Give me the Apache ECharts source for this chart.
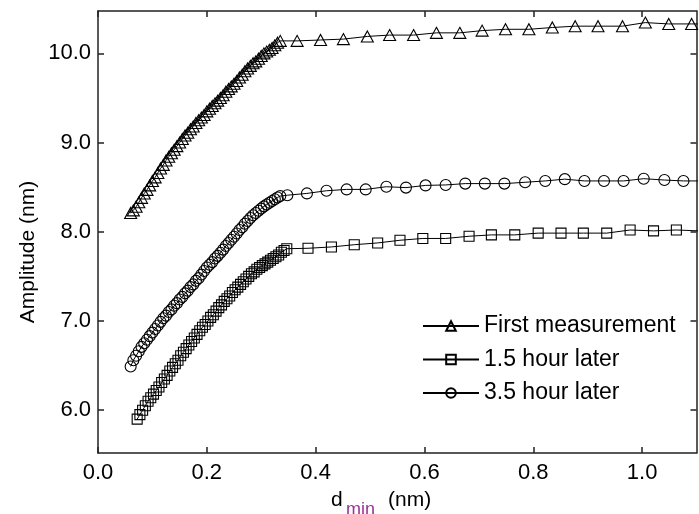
<!DOCTYPE html>
<html><head><meta charset="utf-8">
<script src="https://cdn.jsdelivr.net/npm/echarts@6/dist/echarts.min.js"></script>
<style>html,body{margin:0;padding:0;background:#fff}#c{width:699px;height:514px}</style>
</head><body><div id="c"></div>
<script>
const seriesNames = ['First measurement', '1.5 hour later', '3.5 hour later'];
const xTicks = [0, 0.2, 0.4, 0.6, 0.8, 1.0];
const yTicks = [6, 7, 8, 9, 10];

// First measurement (triangles)
const firstX = [0.060,0.065,0.070,0.075,0.080,0.085,0.090,0.095,0.100,0.105,0.110,0.115,0.120,0.125,0.130,0.135,0.140,0.145,0.150,0.155,0.160,0.165,0.170,0.175,0.180,0.185,0.190,0.195,0.200,0.205,0.210,0.215,0.220,0.225,0.230,0.235,0.240,0.245,0.250,0.255,0.260,0.265,0.270,0.275,0.280,0.285,0.290,0.295,0.300,0.305,0.310,0.315,0.320,0.325,0.330,0.335,
  0.366,0.409,0.451,0.495,0.536,0.580,0.622,0.665,0.706,0.749,0.792,0.835,0.877,0.919,0.964,1.006,1.049,1.091,1.134];
const firstY = [8.21,8.24,8.28,8.33,8.38,8.43,8.47,8.52,8.57,8.61,8.66,8.71,8.75,8.80,8.84,8.88,8.92,8.96,9.00,9.04,9.08,9.11,9.15,9.18,9.22,9.25,9.28,9.31,9.35,9.38,9.41,9.44,9.47,9.50,9.53,9.57,9.60,9.63,9.66,9.69,9.73,9.76,9.80,9.83,9.86,9.89,9.91,9.94,9.97,10.00,10.02,10.04,10.06,10.09,10.12,10.14,
  10.14,10.15,10.16,10.19,10.205,10.205,10.23,10.23,10.255,10.27,10.27,10.29,10.305,10.305,10.305,10.345,10.33,10.33,10.33];

// 1.5 hour later (squares)
const laterX15 = [0.072,0.077,0.082,0.087,0.092,0.097,0.102,0.107,0.112,0.117,0.122,0.127,0.132,0.137,0.142,0.147,0.152,0.157,0.162,0.167,0.172,0.177,0.182,0.187,0.192,0.197,0.202,0.207,0.212,0.217,0.222,0.227,0.232,0.237,0.242,0.247,0.252,0.257,0.262,0.267,0.272,0.277,0.282,0.287,0.292,0.297,0.302,0.307,0.312,0.317,0.322,0.327,0.332,0.337,0.342,0.347,
  0.386,0.429,0.471,0.514,0.555,0.597,0.639,0.682,0.723,0.766,0.809,0.851,0.892,0.935,0.978,1.021,1.063,1.105];
const laterY15 = [5.90,5.95,6.00,6.05,6.10,6.14,6.18,6.22,6.26,6.31,6.35,6.39,6.44,6.48,6.52,6.56,6.61,6.65,6.69,6.73,6.77,6.81,6.85,6.89,6.93,6.96,7.00,7.04,7.07,7.11,7.15,7.18,7.22,7.25,7.28,7.32,7.35,7.38,7.41,7.44,7.47,7.50,7.53,7.55,7.58,7.60,7.62,7.64,7.66,7.68,7.70,7.72,7.74,7.77,7.79,7.81,
  7.815,7.83,7.855,7.875,7.905,7.925,7.925,7.95,7.965,7.965,7.985,7.985,7.985,7.985,8.02,8.01,8.02,8.01];

// 3.5 hour later (circles)
const laterX35 = [0.060,0.065,0.070,0.075,0.080,0.085,0.090,0.095,0.100,0.105,0.110,0.115,0.120,0.125,0.130,0.135,0.140,0.145,0.150,0.155,0.160,0.165,0.170,0.175,0.180,0.185,0.190,0.195,0.200,0.205,0.210,0.215,0.220,0.225,0.230,0.235,0.240,0.245,0.250,0.255,0.260,0.265,0.270,0.275,0.280,0.285,0.290,0.295,0.300,0.305,0.310,0.315,0.320,0.325,0.330,0.335,
  0.348,0.384,0.420,0.457,0.492,0.530,0.566,0.602,0.639,0.675,0.711,0.747,0.785,0.822,0.858,0.894,0.930,0.966,1.003,1.041,1.076,1.113];
const laterY35 = [6.49,6.56,6.61,6.66,6.71,6.75,6.79,6.83,6.87,6.91,6.95,6.99,7.03,7.06,7.10,7.13,7.17,7.20,7.24,7.27,7.31,7.34,7.38,7.41,7.45,7.48,7.52,7.56,7.60,7.63,7.66,7.70,7.73,7.765,7.80,7.84,7.875,7.91,7.945,7.98,8.02,8.05,8.09,8.12,8.155,8.185,8.21,8.235,8.26,8.285,8.305,8.325,8.345,8.365,8.385,8.40,
  8.41,8.43,8.46,8.475,8.475,8.505,8.495,8.52,8.525,8.54,8.54,8.54,8.555,8.57,8.59,8.57,8.57,8.57,8.595,8.58,8.57,8.57];

function pairs(xs, ys) { return xs.map((x, i) => [x, ys[i]]); }

const FONT = '"Liberation Sans", Arial, sans-serif';
const AX = '#222';

function mkSeries(name, symbol, size, xs, ys) {
  return {
    name: name, type: 'line', data: pairs(xs, ys),
    symbol: symbol, symbolSize: size, showSymbol: true, showAllSymbol: true,
    lineStyle: { color: '#000', width: 1 },
    itemStyle: { color: 'rgba(0,0,0,0)', borderColor: '#000', borderWidth: 1.1 },
    emphasis: { disabled: true }, clip: true, animation: false
  };
}

function mkX(pos, showLabel) {
  return {
    type: 'value', min: 0, max: 1.1, position: pos,
    axisLine: { show: true, onZero: false, lineStyle: { color: AX, width: 1.5 } },
    axisTick: { show: true, inside: true, length: 6, customValues: xTicks, lineStyle: { color: AX, width: 1.5 } },
    axisLabel: { show: showLabel, customValues: xTicks, formatter: v => v.toFixed(1), color: '#000', fontSize: 22, fontFamily: FONT, margin: 9 },
    splitLine: { show: false }
  };
}
function mkY(pos, showLabel) {
  return {
    type: 'value', min: 5.52, max: 10.475, position: pos,
    axisLine: { show: true, onZero: false, lineStyle: { color: AX, width: 1.5 } },
    axisTick: { show: true, inside: true, length: 6, customValues: yTicks, lineStyle: { color: AX, width: 1.5 } },
    axisLabel: { show: showLabel, customValues: yTicks, formatter: v => v.toFixed(1), color: '#000', fontSize: 22, fontFamily: FONT, margin: 7 },
    splitLine: { show: false }
  };
}

const chart = echarts.init(document.getElementById('c'));
chart.setOption({
  animation: false,
  backgroundColor: '#fff',
  grid: { left: 98, right: 2.5, top: 11, bottom: 61, outerBoundsMode: 'none', containLabel: false },
  xAxis: [mkX('bottom', true), mkX('top', false)],
  yAxis: [mkY('left', true), mkY('right', false)],
  legend: {
    orient: 'vertical', left: 422, top: 314.5, padding: 0, itemWidth: 56, itemHeight: 12, itemGap: 10.5,
    selectedMode: false, data: seriesNames,
    textStyle: { fontSize: 23, color: '#000', fontFamily: FONT }
  },
  graphic: [
    { type: 'text', x: 28, y: 252, rotation: Math.PI / 2,
      style: { text: 'Amplitude (nm)', fontSize: 21, fontFamily: FONT, fill: '#000', align: 'center', verticalAlign: 'middle', textAlign: 'center', textVerticalAlign: 'middle' } },
    { type: 'text', x: 331, y: 500,
      style: { text: 'd', fontSize: 21, fontFamily: FONT, fill: '#000', align: 'left', verticalAlign: 'middle', textAlign: 'left', textVerticalAlign: 'middle' } },
    { type: 'text', x: 346, y: 510,
      style: { text: 'min', fontSize: 18, fontFamily: FONT, fill: '#993399', align: 'left', verticalAlign: 'middle', textAlign: 'left', textVerticalAlign: 'middle' } },
    { type: 'text', x: 388, y: 500,
      style: { text: '(nm)', fontSize: 21, fontFamily: FONT, fill: '#000', align: 'left', verticalAlign: 'middle', textAlign: 'left', textVerticalAlign: 'middle' } }
  ],
  series: [
    mkSeries(seriesNames[0], 'triangle', [12, 11], firstX, firstY),
    mkSeries(seriesNames[1], 'rect', 10, laterX15, laterY15),
    mkSeries(seriesNames[2], 'circle', 11, laterX35, laterY35)
  ]
});
</script>
</body></html>
